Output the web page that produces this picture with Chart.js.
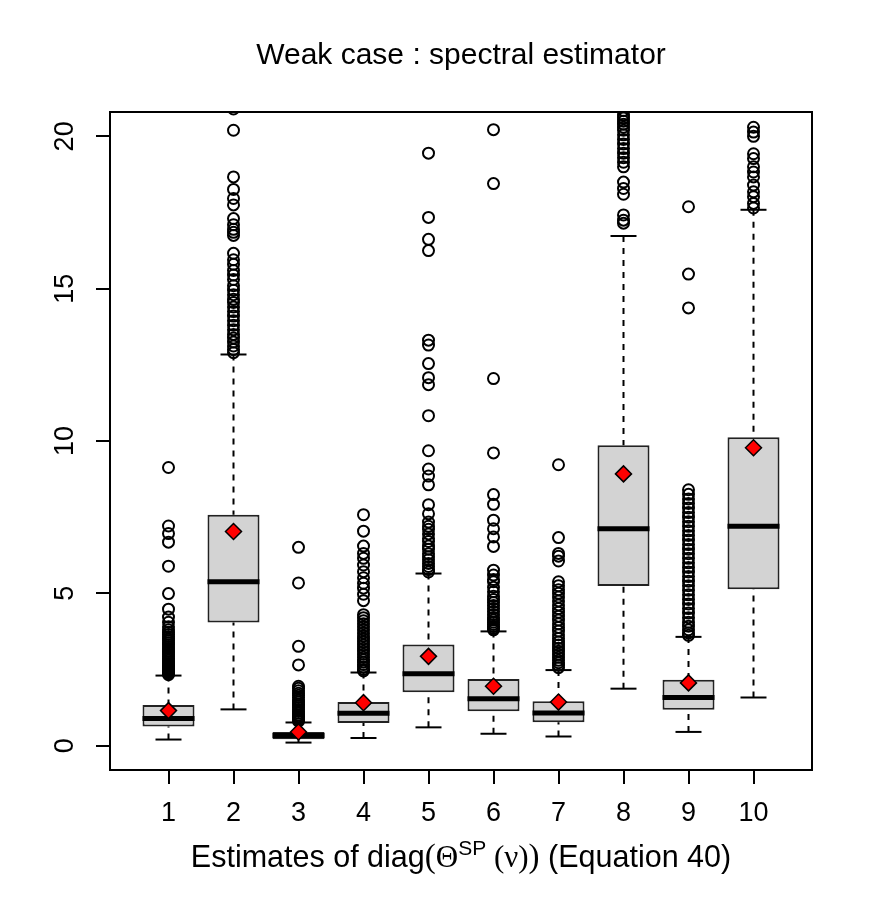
<!DOCTYPE html>
<html>
<head>
<meta charset="utf-8">
<title>Weak case : spectral estimator</title>
<script src="https://cdn.jsdelivr.net/npm/chart.js@4.4.1/dist/chart.umd.min.js"></script>
<style>
  html, body { margin: 0; padding: 0; background: #fff; }
  #wrap { width: 872px; height: 910px; }
</style>
</head>
<body>
<div id="wrap"><canvas id="chart" width="872" height="910"></canvas></div>
<script>
// Box statistics
const boxLabels = ['1', '2', '3', '4', '5', '6', '7', '8', '9', '10'];
const lowerWhisker = [0.20, 1.19, 0.10, 0.25, 0.60, 0.39, 0.30, 1.87, 0.45, 1.58];
const q1 = [0.63, 4.04, 0.21, 0.74, 1.75, 1.13, 0.77, 5.24, 1.18, 5.13];
const medians = [0.89, 5.38, 0.33, 1.06, 2.36, 1.54, 1.07, 7.12, 1.58, 7.20];
const q3 = [1.33, 7.58, 0.45, 1.43, 3.32, 2.19, 1.46, 9.86, 2.16, 10.12];
const upperWhisker = [2.30, 12.84, 0.76, 2.40, 5.65, 3.75, 2.48, 16.73, 3.57, 17.59];
const means = [1.15, 7.03, 0.45, 1.41, 2.93, 1.95, 1.43, 8.92, 2.06, 9.78];

const outliers = [
    [9.13, 7.21, 6.96, 6.68, 5.89, 4.99, 4.48, 4.22, 4.05, 3.90, 3.80, 3.72, 3.65, 3.58, 3.50, 3.44,
     3.38, 3.30, 3.24, 3.18, 3.10, 3.04, 2.98, 2.92, 2.86, 2.80, 2.75, 2.70, 2.65, 2.60, 2.56, 2.52,
     2.48, 2.44, 2.40, 2.36, 2.33],
    [20.9, 20.2, 18.67, 18.26, 17.96, 17.75, 17.30, 17.10, 16.95, 16.85, 16.75, 16.16, 15.95, 15.80,
     15.60, 15.45, 15.30, 15.10, 14.95, 14.80, 14.65, 14.55, 14.40, 14.25, 14.10, 13.95, 13.80, 13.65,
     13.50, 13.38, 13.25, 13.12, 13.00, 12.90],
    [6.51, 5.34, 3.26, 2.65, 1.95, 1.88, 1.80, 1.72, 1.65, 1.58, 1.50, 1.43, 1.36, 1.30, 1.24, 1.18,
     1.12, 1.06, 1.00, 0.95, 0.90, 0.85, 0.80],
    [7.58, 7.04, 6.55, 6.31, 6.15, 5.93, 5.71, 5.51, 5.33, 5.17, 4.97, 4.76, 4.30, 4.20, 4.10, 4.00,
     3.90, 3.80, 3.70, 3.60, 3.50, 3.40, 3.30, 3.20, 3.10, 3.00, 2.90, 2.82, 2.74, 2.66, 2.58, 2.50,
     2.45],
    [19.45, 17.34, 16.62, 16.25, 13.31, 13.15, 12.54, 12.08, 11.85, 10.83, 9.68, 9.08, 8.85, 8.56,
     7.91, 7.61, 7.34, 7.20, 7.10, 6.95, 6.80, 6.70, 6.55, 6.45, 6.30, 6.20, 6.10, 5.98, 5.88, 5.78,
     5.70],
    [20.22, 18.45, 12.05, 9.61, 8.24, 7.92, 7.40, 7.12, 6.85, 6.54, 5.76, 5.60, 5.45, 5.38, 5.20,
     5.05, 4.90, 4.80, 4.70, 4.60, 4.50, 4.40, 4.30, 4.20, 4.12, 4.05, 3.98, 3.91, 3.85, 3.80],
    [9.22, 6.83, 6.31, 6.22, 6.06, 5.38, 5.25, 5.12, 5.00, 4.88, 4.75, 4.62, 4.50, 4.38, 4.25, 4.12,
     4.00, 3.88, 3.76, 3.64, 3.52, 3.40, 3.30, 3.20, 3.10, 3.00, 2.90, 2.80, 2.72, 2.64, 2.56],
    [21.2, 21.0, 20.85, 20.70, 20.60, 20.50, 20.40, 20.30, 20.20, 20.05, 19.90, 19.75, 19.60, 19.45,
     19.30, 19.15, 19.00, 18.50, 18.29, 18.10, 17.42, 17.25, 17.15],
    [17.69, 15.48, 14.37, 8.40, 8.25, 8.10, 7.95, 7.80, 7.65, 7.50, 7.35, 7.20, 7.05, 6.90, 6.75,
     6.60, 6.45, 6.30, 6.15, 6.00, 5.85, 5.70, 5.55, 5.40, 5.25, 5.10, 4.95, 4.80, 4.65, 4.50, 4.35,
     4.20, 4.05, 3.92, 3.80, 3.70, 3.62],
    [20.30, 20.14, 20.00, 19.43, 19.27, 19.00, 18.83, 18.67, 18.40, 18.18, 18.02, 17.80, 17.65]
];

const yTicks = [0, 5, 10, 15, 20];
const yTickLabels = ['0', '5', '10', '15', '20'];

const titleText = 'Weak case : spectral estimator';

const SANS = '"Liberation Sans", Arial, Helvetica, sans-serif';
const SERIF = '"Liberation Serif", "Times New Roman", serif';

// Build point lists for the library
const boxData = boxLabels.map((_, i) => ({ x: i + 1, y: [q1[i], q3[i]] }));
const medianData = boxLabels.map((_, i) => ({ x: i + 1, y: medians[i] }));
const meanData = boxLabels.map((_, i) => ({ x: i + 1, y: means[i] }));
const capData = boxLabels.flatMap((_, i) => [
    { x: i + 1, y: lowerWhisker[i] },
    { x: i + 1, y: upperWhisker[i] }
]);
const whiskerData = boxLabels.flatMap((_, i) => [
    { x: i + 1, y: upperWhisker[i] }, { x: i + 1, y: q3[i] }, { x: i + 1, y: null },
    { x: i + 1, y: lowerWhisker[i] }, { x: i + 1, y: q1[i] }, { x: i + 1, y: null }
]);
const outlierData = outliers.flatMap((vals, i) => vals.map(v => ({ x: i + 1, y: v })));

// Frame, rotated y labels, title and x label (with superscript)
const decorPlugin = {
    id: 'decor',
    afterDraw(chart) {
        const { ctx, chartArea: a, scales } = chart;
        ctx.save();
        ctx.strokeStyle = '#000';
        ctx.lineWidth = 2;
        ctx.strokeRect(a.left, a.top, a.right - a.left, a.bottom - a.top);

        ctx.fillStyle = '#000';
        ctx.font = '27px ' + SANS;
        ctx.textAlign = 'center';
        ctx.textBaseline = 'middle';
        scales.y.ticks.forEach((t, i) => {
            const y = scales.y.getPixelForValue(t.value);
            ctx.save();
            ctx.translate(a.left - 44, y);
            ctx.rotate(-Math.PI / 2);
            ctx.fillText(yTickLabels[i], 0, 0);
            ctx.restore();
        });

        const mid = (a.left + a.right) / 2;
        ctx.textBaseline = 'alphabetic';
        ctx.font = '30px ' + SANS;
        ctx.fillText(titleText, mid, 64);

        // x axis label pieces
        const pieces = [
            { t: 'Estimates of diag', f: '30.5px ' + SANS, dy: 0 },
            { t: '(', f: '33px ' + SERIF, dy: 0 },
            { t: '\u0398', f: '31px ' + SERIF, dy: 0 },
            { t: 'SP', f: '21px ' + SANS, dy: -12 },
            { t: ' (\u03BD)', f: '31px ' + SERIF, dy: 0 },
            { t: ')', f: '33px ' + SERIF, dy: 0 },
            { t: ' (Equation 40)', f: '30.5px ' + SANS, dy: 0 }
        ];
        let total = 0;
        pieces.forEach(p => { ctx.font = p.f; p.w = ctx.measureText(p.t).width; total += p.w; });
        let x = mid - total / 2;
        ctx.textAlign = 'left';
        pieces.forEach(p => {
            ctx.font = p.f;
            ctx.fillText(p.t, x, 867 + p.dy);
            x += p.w;
        });
        ctx.restore();
    }
};

const ctx = document.getElementById('chart').getContext('2d');
new Chart(ctx, {
    type: 'bar',
    data: {
        datasets: [
            {
                type: 'scatter',
                label: 'mean',
                data: meanData,
                pointStyle: 'rectRot',
                pointRadius: 8,
                backgroundColor: '#ff0000',
                borderColor: '#000',
                borderWidth: 1.5,
                order: 0
            },
            {
                type: 'scatter',
                label: 'outliers',
                data: outlierData,
                pointStyle: 'circle',
                pointRadius: 5.5,
                backgroundColor: 'rgba(0,0,0,0)',
                borderColor: '#000',
                borderWidth: 2,
                order: 1
            },
            {
                type: 'scatter',
                label: 'median',
                data: medianData,
                pointStyle: 'line',
                pointRadius: 26,
                borderColor: '#000',
                borderWidth: 5,
                order: 2
            },
            {
                type: 'scatter',
                label: 'caps',
                data: capData,
                pointStyle: 'line',
                pointRadius: 13,
                borderColor: '#000',
                borderWidth: 2,
                order: 3
            },
            {
                type: 'line',
                label: 'whiskers',
                data: whiskerData,
                borderColor: '#000',
                borderWidth: 2,
                borderDash: [6, 6],
                pointRadius: 0,
                spanGaps: false,
                fill: false,
                order: 4
            },
            {
                type: 'bar',
                label: 'box',
                data: boxData,
                backgroundColor: '#d3d3d3',
                borderColor: '#222',
                borderWidth: 2,
                borderSkipped: false,
                categoryPercentage: 1,
                barPercentage: 0.8,
                order: 5
            }
        ]
    },
    options: {
        responsive: false,
        animation: false,
        layout: { padding: { top: 112, right: 60, bottom: 0, left: 0 } },
        plugins: {
            legend: { display: false },
            tooltip: { enabled: false },
            title: { display: false }
        },
        scales: {
            x: {
                type: 'linear',
                min: 0.1,
                max: 10.9,
                offset: false,
                afterBuildTicks: scale => {
                    scale.ticks = boxLabels.map((_, i) => ({ value: i + 1 }));
                },
                afterFit: scale => { scale.height = 140; },
                ticks: {
                    callback: value => boxLabels[value - 1],
                    color: '#000',
                    font: { family: SANS, size: 27 },
                    padding: 13,
                    maxRotation: 0,
                    autoSkip: false
                },
                grid: {
                    offset: false,
                    drawOnChartArea: false,
                    drawTicks: true,
                    tickLength: 14,
                    color: '#000',
                    lineWidth: 2
                },
                border: { display: false }
            },
            y: {
                type: 'linear',
                min: -0.8,
                max: 20.8,
                afterBuildTicks: scale => {
                    scale.ticks = yTicks.map(v => ({ value: v }));
                },
                afterFit: scale => { scale.width = 110; },
                ticks: { display: false },
                grid: {
                    drawOnChartArea: false,
                    drawTicks: true,
                    tickLength: 14,
                    color: '#000',
                    lineWidth: 2
                },
                border: { display: false }
            }
        }
    },
    plugins: [decorPlugin]
});
</script>
</body>
</html>
